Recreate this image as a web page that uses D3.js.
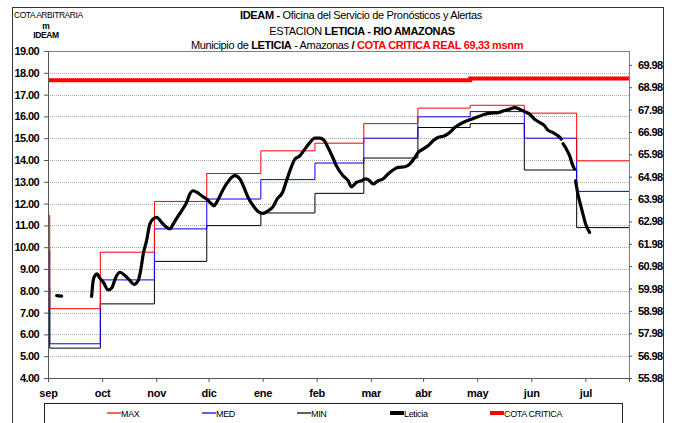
<!DOCTYPE html>
<html><head><meta charset="utf-8">
<script src="https://cdn.jsdelivr.net/npm/d3@7/dist/d3.min.js"></script>
<style>
html,body{margin:0;padding:0;background:#fff;}
svg{display:block;font-family:"Liberation Sans",Arial,sans-serif;}
</style></head>
<body>
<svg id="chart" width="677" height="423"></svg>
<script>
// ---- DATA ----
// days counted from 1 September
const monthLabels = ["sep","oct","nov","dic","ene","feb","mar","abr","may","jun","jul"];
const tickDays = [0, 31, 62, 92, 123, 154, 185, 215, 246, 277, 308];
const monthStarts = [0, 30, 61, 91, 122, 153, 181, 212, 242, 273, 303];
const endDay = 333;
const leftTicks = [4,5,6,7,8,9,10,11,12,13,14,15,16,17,18,19];
const rightTicks = [55.98,56.98,57.98,58.98,59.98,60.98,61.98,62.98,63.98,64.98,65.98,66.98,67.98,68.98,69.98];

const maxFirst = 11.45, medFirst = 9.84, minFirst = 8.10;
const maxVals = [7.18, 9.77, 12.10, 13.38, 14.42, 14.77, 15.67, 16.38, 16.51, 16.15, 13.96];
const medVals = [5.57, 8.50, 10.84, 12.21, 13.10, 13.86, 15.00, 15.98, 16.22, 15.00, 12.56];
const minVals = [5.37, 7.40, 9.35, 10.99, 11.57, 12.47, 14.09, 15.49, 15.67, 13.54, 10.90];

const cotaDays = [0, 242, 333];
const cotaVals = [17.66, 17.74, 17.74];

// Leticia observed levels (null = gap)
const leticiaDays = [5.0, 7.8, null,
 25.0, 25.9, 26.9, 28.2, 29.4, 31.7, 34.5, 36.5, 38.9, 41.2, 44.1, 47.0, 49.3, 51.7, 53.1, 54.6, 56.5, 58.4,
 60.3, 62.3, 65.1, 67.6, 69.9, 71.8, 74.1, 76.6, 79.4, 81.3, 83.2, 85.5, 88.0, 90.9, 93.8, 95.1, 96.6, 99.5,
 102.3, 105.2, 107.1, 110.0, 112.3, 114.7, 117.6, 120.4, 123.3, 126.2, 129.0, 131.3, 134.4, 136.7, 139.0,
 141.5, 144.3, 147.2, 150.1, 152.9, 155.8, 158.1, 160.5, 163.4, 165.3, 169.1, 172.0, 173.9, 176.8, 179.7,
 182.1, 184.4, 186.3, 189.2, 192.0, 194.9, 197.8, 200.6, 204.5, 207.3, 210.2, 212.1, 214.9, 217.8, 220.7,
 223.5, 227.4, 230.2, 233.1, 236.0, 239.8, 242.7, 246.4, 250.3, 254.1, 257.9, 260.8, 264.6, 267.5, 270.3,
 273.2, 276.1, 278.9, 281.8, 284.6, 286.5, 289.4, 292.3, 294.2, null,
 295.2, 297.1, 299.0, 300.5, 301.8, null,
 302.4, 303.7, 305.1, 306.6, 308.1, 310.4];
const leticiaVals = [7.78, 7.76, null,
 7.74, 8.47, 8.70, 8.78, 8.62, 8.39, 8.04, 8.13, 8.62, 8.85, 8.70, 8.47, 8.29, 8.47, 8.93, 9.69, 10.30, 11.07,
 11.30, 11.37, 11.14, 10.94, 10.84, 11.07, 11.37, 11.67, 12.05, 12.44, 12.59, 12.51, 12.36, 12.21, 11.98, 11.90, 12.05, 12.51,
 12.90, 13.20, 13.28, 13.13, 12.74, 12.28, 11.90, 11.64, 11.55, 11.67, 11.86, 12.21, 12.51, 13.05, 13.58,
 14.04, 14.19, 14.50, 14.80, 15.00, 15.00, 14.91, 14.57, 14.08, 13.73, 13.28, 13.05, 12.77, 12.97, 13.05,
 13.13, 13.05, 12.90, 13.05, 13.13, 13.36, 13.54, 13.66, 13.69, 13.81, 14.11, 14.34, 14.50, 14.65, 14.88,
 15.03, 15.11, 15.26, 15.49, 15.64, 15.79, 15.87, 15.98, 16.10, 16.15, 16.17, 16.25, 16.33, 16.40, 16.33,
 16.22, 16.10, 15.87, 15.72, 15.57, 15.37, 15.26, 15.11, 14.96, null,
 14.75, 14.50, 14.19, 13.81, 13.58, null,
 13.05, 12.44, 11.98, 11.52, 11.07, 10.68];

// ---- CHART ----
const svg = d3.select("#chart");
const x = d3.scaleLinear().domain([0, endDay]).range([48, 629]);
const y = d3.scaleLinear().domain([4, 19]).range([378, 51]);
const y2 = d3.scaleLinear().domain([55.98, 70.6]).range([378, 51]);

// outer frame
svg.append("rect").attr("x", 12.5).attr("y", 7.5).attr("width", 651).attr("height", 440)
  .attr("fill", "none").attr("stroke", "#333").attr("stroke-width", 1);

// grid
svg.append("g").selectAll("line").data(leftTicks.filter(v => v > 4 && v < 19)).join("line")
  .attr("x1", x(0)).attr("x2", x(endDay))
  .attr("y1", d => Math.round(y(d)) + 0.5).attr("y2", d => Math.round(y(d)) + 0.5)
  .attr("stroke", "#a8a8a8").attr("stroke-dasharray", "1,1");

// plot box
svg.append("rect").attr("x", x(0) + 0.5).attr("y", y(19) + 0.5)
  .attr("width", x(endDay) - x(0)).attr("height", y(4) - y(19))
  .attr("fill", "none").attr("stroke", "#808080");

// step series
function stepData(first, vals) {
  const pts = [[0, first], [1, vals[0]]];
  monthStarts.forEach((d, i) => { if (i > 0) pts.push([d, vals[i]]); });
  pts.push([endDay, vals[vals.length - 1]]);
  return pts;
}
const stepLine = d3.line().x(d => x(d[0])).y(d => y(d[1])).curve(d3.curveStepAfter);
const series = [
  {vals: minVals, first: minFirst, color: "#000000"},
  {vals: medVals, first: medFirst, color: "#0000ff"},
  {vals: maxVals, first: maxFirst, color: "#ff0000"}
];
series.forEach(s => {
  svg.append("path").attr("d", stepLine(stepData(s.first, s.vals)))
    .attr("fill", "none").attr("stroke", s.color).attr("stroke-width", 1);
});

// cota critica
const cotaPts = cotaDays.map((d, i) => [d, cotaVals[i]]);
svg.append("path").attr("d", stepLine(cotaPts))
  .attr("fill", "none").attr("stroke", "#ff0000").attr("stroke-width", 4);

// leticia
const letPts = leticiaDays.map((d, i) => [d, leticiaVals[i]]);
const letLine = d3.line().defined(d => d[0] !== null && d[1] !== null)
  .x(d => x(d[0])).y(d => y(d[1])).curve(d3.curveMonotoneX);
svg.append("path").attr("d", letLine(letPts))
  .attr("fill", "none").attr("stroke", "#000").attr("stroke-width", 3.2)
  .attr("stroke-linejoin", "round").attr("stroke-linecap", "round");

// axes
const axL = svg.append("g").attr("transform", `translate(${x(0)},0)`)
  .call(d3.axisLeft(y).tickValues(leftTicks).tickFormat(d3.format(".2f")).tickSize(4).tickPadding(5));
const axR = svg.append("g").attr("transform", `translate(${x(endDay)},0)`)
  .call(d3.axisRight(y2).tickValues(rightTicks).tickFormat(d3.format(".2f")).tickSize(3).tickPadding(6));
const axB = svg.append("g").attr("transform", `translate(0,${y(4)})`)
  .call(d3.axisBottom(x).tickValues(tickDays).tickFormat((d, i) => monthLabels[i]).tickSize(4).tickPadding(7));
[axL, axR, axB].forEach(a => {
  a.select(".domain").attr("stroke", "#555");
  a.selectAll(".tick line").attr("stroke", "#555");
  a.selectAll("text").attr("fill", "#000").style("font-family", "'Liberation Sans', Arial, sans-serif")
    .style("font-weight", "bold").style("font-size", "11px").style("letter-spacing", "-0.6px");
});
axR.select(".domain").remove();
axB.selectAll("text").style("letter-spacing", "-0.2px");

// top-left labels
svg.append("text").attr("x", 14).attr("y", 18).text("COTA ARBITRARIA")
  .style("font-size", "8.5px").style("letter-spacing", "-0.45px");
svg.append("text").attr("x", 46).attr("y", 29).attr("text-anchor", "middle").text("m")
  .style("font-size", "8.5px").style("font-weight", "bold");
svg.append("text").attr("x", 46).attr("y", 38).attr("text-anchor", "middle").text("IDEAM")
  .style("font-size", "8.5px").style("font-weight", "bold").style("letter-spacing", "-0.4px");

// titles
const t1 = svg.append("text").attr("x", 361).attr("y", 19).attr("text-anchor", "middle")
  .style("font-size", "11px").style("letter-spacing", "-0.35px");
t1.append("tspan").style("font-weight", "bold").text("IDEAM - ");
t1.append("tspan").text("Oficina del Servicio de Pronósticos y Alertas");
const t2 = svg.append("text").attr("x", 362).attr("y", 35).attr("text-anchor", "middle")
  .style("font-size", "11px").style("letter-spacing", "-0.35px");
t2.append("tspan").text("ESTACION ");
t2.append("tspan").style("font-weight", "bold").text("LETICIA - RIO AMAZONAS");
const t3 = svg.append("text").attr("x", 357).attr("y", 49).attr("text-anchor", "middle")
  .style("font-size", "11px").style("letter-spacing", "-0.35px");
t3.append("tspan").text("Municipio de ");
t3.append("tspan").style("font-weight", "bold").text("LETICIA");
t3.append("tspan").text(" - Amazonas ");
t3.append("tspan").style("font-weight", "bold").text(" / ");
t3.append("tspan").style("font-weight", "bold").attr("fill", "#ff0000").text(" COTA CRITICA REAL 69,33 msnm");

// legend
svg.append("rect").attr("x", 44.5).attr("y", 403.5).attr("width", 578).attr("height", 40)
  .attr("fill", "none").attr("stroke", "#222");
const legendItems = [
  {name: "MAX", color: "#ff6060", w: 2, x: 107},
  {name: "MED", color: "#6060ff", w: 2, x: 202},
  {name: "MIN", color: "#606060", w: 2, x: 297},
  {name: "Leticia", color: "#000", w: 4, x: 390},
  {name: "COTA CRITICA", color: "#ff0000", w: 4, x: 490}
];
const lg = svg.append("g").selectAll("g").data(legendItems).join("g");
lg.append("line").attr("x1", d => d.x).attr("x2", d => d.x + 14).attr("y1", 413).attr("y2", 413)
  .attr("stroke", d => d.color).attr("stroke-width", d => d.w);
lg.append("text").attr("x", d => d.x + 14).attr("y", 416.5).text(d => d.name)
  .style("font-size", "9px").style("letter-spacing", "-0.35px");
</script>
</body></html>
